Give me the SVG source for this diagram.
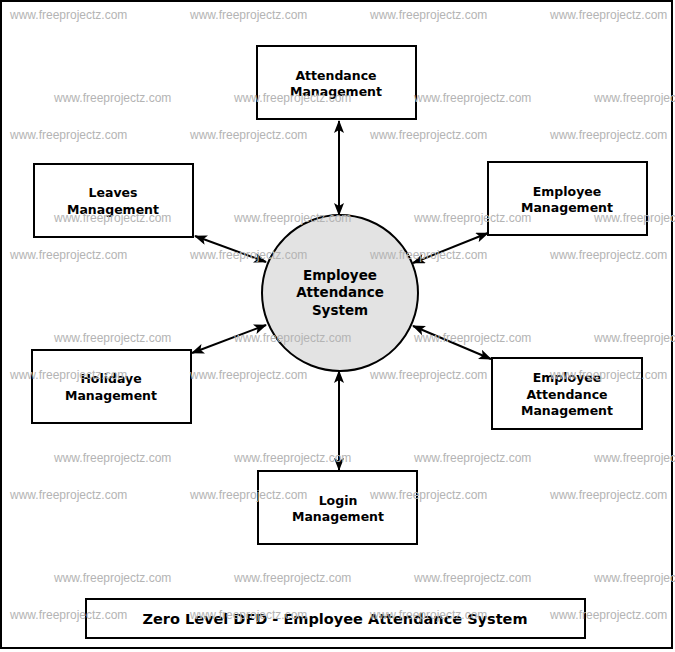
<svg xmlns="http://www.w3.org/2000/svg" width="675" height="652" viewBox="0 0 675 652">
<style>
.box{fill:#fff;stroke:#000;stroke-width:2}
.t{font-family:"DejaVu Sans",sans-serif;font-weight:bold;font-size:12.5px;text-anchor:middle;fill:#000}
.c{font-size:13.5px}
.ttl{font-size:14.5px}
.wm{font-family:"Liberation Sans",Arial,sans-serif;font-size:12px;fill:#b4b4b4}
.ln{stroke:#000;stroke-width:2;fill:none;marker-start:url(#a);marker-end:url(#a)}
</style>
<defs>
<marker id="a" viewBox="0 0 13 10" refX="12" refY="5" markerWidth="13" markerHeight="10" markerUnits="userSpaceOnUse" orient="auto-start-reverse">
<path d="M0,0 L13,5 L0,10 L3,5 Z" fill="#000"/>
</marker>
</defs>
<rect x="0" y="0" width="675" height="652" fill="#fff"/>
<rect x="1" y="1" width="671" height="647" fill="none" stroke="#000" stroke-width="2"/>
<g id="connectors">
<line class="ln" x1="339" y1="121" x2="339" y2="215"/>
<line class="ln" x1="195" y1="236" x2="266" y2="262"/>
<line class="ln" x1="488" y1="233" x2="413" y2="263"/>
<line class="ln" x1="192" y1="353" x2="266" y2="325"/>
<line class="ln" x1="413" y1="326" x2="491" y2="359"/>
<line class="ln" x1="339" y1="371" x2="339" y2="470"/>
</g>
<g id="center">
<circle cx="340" cy="293" r="78" fill="#e3e3e3" stroke="#000" stroke-width="2"/>
<text class="t c" x="340" y="280">Employee</text>
<text class="t c" x="340" y="297">Attendance</text>
<text class="t c" x="340" y="315">System</text>
</g>
<g id="attendance">
<rect class="box" x="257" y="46" width="159" height="73"/>
<text class="t" x="336" y="80">Attendance</text>
<text class="t" x="336" y="96">Management</text>
</g>
<g id="leaves">
<rect class="box" x="34" y="164" width="159" height="73"/>
<text class="t" x="113" y="197">Leaves</text>
<text class="t" x="113" y="214">Management</text>
</g>
<g id="employee">
<rect class="box" x="488" y="162" width="159" height="73"/>
<text class="t" x="567" y="196">Employee</text>
<text class="t" x="567" y="212">Management</text>
</g>
<g id="holidaye">
<rect class="box" x="32" y="350" width="159" height="73"/>
<text class="t" x="111" y="383">Holidaye</text>
<text class="t" x="111" y="400">Management</text>
</g>
<g id="empatt">
<rect class="box" x="492" y="358" width="150" height="71"/>
<text class="t" x="567" y="382">Employee</text>
<text class="t" x="567" y="399">Attendance</text>
<text class="t" x="567" y="415">Management</text>
</g>
<g id="login">
<rect class="box" x="258" y="471" width="159" height="73"/>
<text class="t" x="338" y="505">Login</text>
<text class="t" x="338" y="521">Management</text>
</g>
<g id="title">
<rect class="box" x="86" y="599" width="499" height="39"/>
<text class="t ttl" x="335" y="624">Zero Level DFD - Employee Attendance System</text>
</g>
<g id="watermarks" class="wm">
<text x="10" y="19">www.freeprojectz.com</text><text x="190" y="19">www.freeprojectz.com</text><text x="370" y="19">www.freeprojectz.com</text><text x="550" y="19">www.freeprojectz.com</text>
<text x="54" y="102">www.freeprojectz.com</text><text x="234" y="102">www.freeprojectz.com</text><text x="414" y="102">www.freeprojectz.com</text><text x="594" y="102">www.freeprojectz.com</text>
<text x="10" y="139">www.freeprojectz.com</text><text x="190" y="139">www.freeprojectz.com</text><text x="370" y="139">www.freeprojectz.com</text><text x="550" y="139">www.freeprojectz.com</text>
<text x="54" y="222">www.freeprojectz.com</text><text x="234" y="222">www.freeprojectz.com</text><text x="414" y="222">www.freeprojectz.com</text><text x="594" y="222">www.freeprojectz.com</text>
<text x="10" y="259">www.freeprojectz.com</text><text x="190" y="259">www.freeprojectz.com</text><text x="370" y="259">www.freeprojectz.com</text><text x="550" y="259">www.freeprojectz.com</text>
<text x="54" y="342">www.freeprojectz.com</text><text x="234" y="342">www.freeprojectz.com</text><text x="414" y="342">www.freeprojectz.com</text><text x="594" y="342">www.freeprojectz.com</text>
<text x="10" y="379">www.freeprojectz.com</text><text x="190" y="379">www.freeprojectz.com</text><text x="370" y="379">www.freeprojectz.com</text><text x="550" y="379">www.freeprojectz.com</text>
<text x="54" y="462">www.freeprojectz.com</text><text x="234" y="462">www.freeprojectz.com</text><text x="414" y="462">www.freeprojectz.com</text><text x="594" y="462">www.freeprojectz.com</text>
<text x="10" y="499">www.freeprojectz.com</text><text x="190" y="499">www.freeprojectz.com</text><text x="370" y="499">www.freeprojectz.com</text><text x="550" y="499">www.freeprojectz.com</text>
<text x="54" y="582">www.freeprojectz.com</text><text x="234" y="582">www.freeprojectz.com</text><text x="414" y="582">www.freeprojectz.com</text><text x="594" y="582">www.freeprojectz.com</text>
<text x="10" y="619">www.freeprojectz.com</text><text x="190" y="619">www.freeprojectz.com</text><text x="370" y="619">www.freeprojectz.com</text><text x="550" y="619">www.freeprojectz.com</text>
</g>
</svg>
